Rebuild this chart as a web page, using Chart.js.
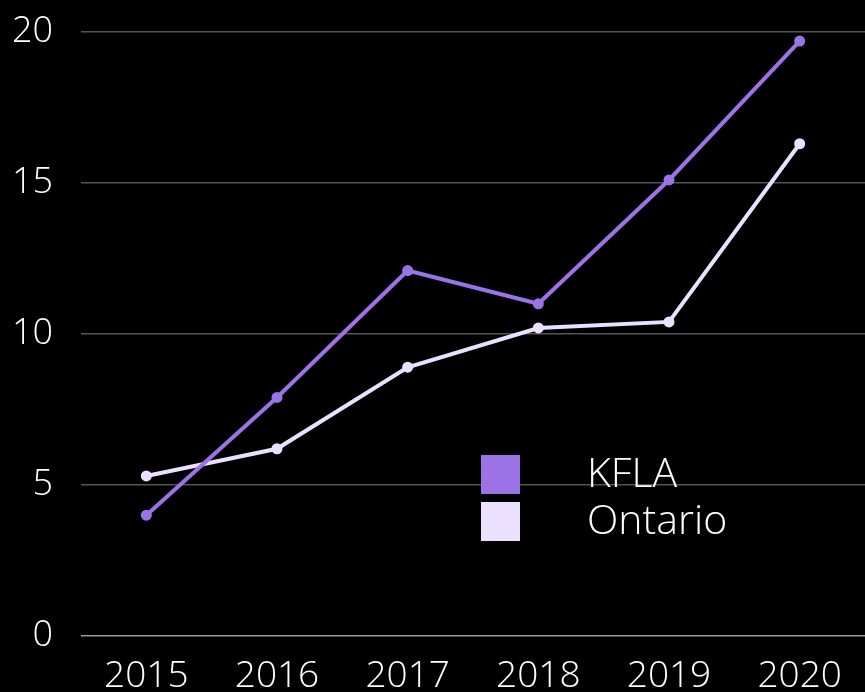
<!DOCTYPE html>
<html><head><meta charset="utf-8">
<script src="https://cdn.jsdelivr.net/npm/chart.js@4/dist/chart.umd.min.js"></script>
<style>html,body{margin:0;padding:0;background:#000;}canvas{display:block;}</style>
</head><body>
<canvas id="c" width="865" height="692"></canvas>
<script>
const categories = ['2015','2016','2017','2018','2019','2020'];
const kflaValues = [4.0, 7.9, 12.1, 11.0, 15.1, 19.7];
const ontarioValues = [5.3, 6.2, 8.9, 10.2, 10.4, 16.3];
const seriesLabels = ['KFLA','Ontario'];
const yTicks = [0,5,10,15,20];

const FONT = '"Open Sans", "Noto Sans", sans-serif';
const purple = '#9b73e6';
const lavender = '#ebe0ff';

const legendPlugin = {
  id: 'innerLegend',
  afterDraw(chart) {
    const ctx = chart.ctx;
    ctx.save();
    const x0 = 481, y0 = 455, box = 39, gap = 47;
    chart.data.datasets.forEach((ds, i) => {
      const y = y0 + i * gap;
      ctx.fillStyle = ds.borderColor;
      ctx.fillRect(x0, y, box, box);
      ctx.fillStyle = '#ffffff';
      ctx.font = '300 41px ' + FONT;
      ctx.textBaseline = 'middle';
      ctx.textAlign = 'left';
      ctx.fillText(ds.label, 587, y + box / 2 + 1);
    });
    ctx.restore();
  }
};

function zeroPad(scale) {
  scale.paddingTop = 0; scale.paddingBottom = 0;
  scale.paddingLeft = 0; scale.paddingRight = 0;
}

new Chart(document.getElementById('c'), {
  type: 'line',
  data: {
    labels: categories,
    datasets: [
      { label: seriesLabels[0], data: kflaValues, borderColor: purple, backgroundColor: purple,
        borderWidth: 4, pointRadius: 5.5, pointBackgroundColor: purple, pointBorderWidth: 0, tension: 0 },
      { label: seriesLabels[1], data: ontarioValues, borderColor: lavender, backgroundColor: lavender,
        borderWidth: 4, pointRadius: 5.5, pointBackgroundColor: lavender, pointBorderWidth: 0, tension: 0 }
    ]
  },
  options: {
    responsive: false,
    animation: false,
    layout: { autoPadding: false, padding: { top: 32, right: 0, left: 0, bottom: 0 } },
    plugins: { legend: { display: false }, tooltip: { enabled: false } },
    scales: {
      x: {
        offset: true,
        afterFit(scale) { scale.height = 56; zeroPad(scale); },
        grid: { display: false, drawTicks: false },
        border: { display: false },
        ticks: { color: '#ffffff', font: { family: FONT, size: 37, weight: '300', lineHeight: 1.2 }, padding: 18, maxRotation: 0 }
      },
      y: {
        min: 0, max: 20,
        afterFit(scale) { scale.width = 81; zeroPad(scale); },
        afterBuildTicks(axis) { axis.ticks = yTicks.map(v => ({ value: v })); },
        grid: {
          drawTicks: false,
          color: ctx => ctx.tick && ctx.tick.value === 0 ? '#9a9a9a' : '#555555',
          lineWidth: 1.5
        },
        border: { display: false },
        ticks: { color: '#ffffff', font: { family: FONT, size: 36, weight: '300' }, padding: 28 }
      }
    }
  },
  plugins: [legendPlugin]
});
</script>
</body></html>
